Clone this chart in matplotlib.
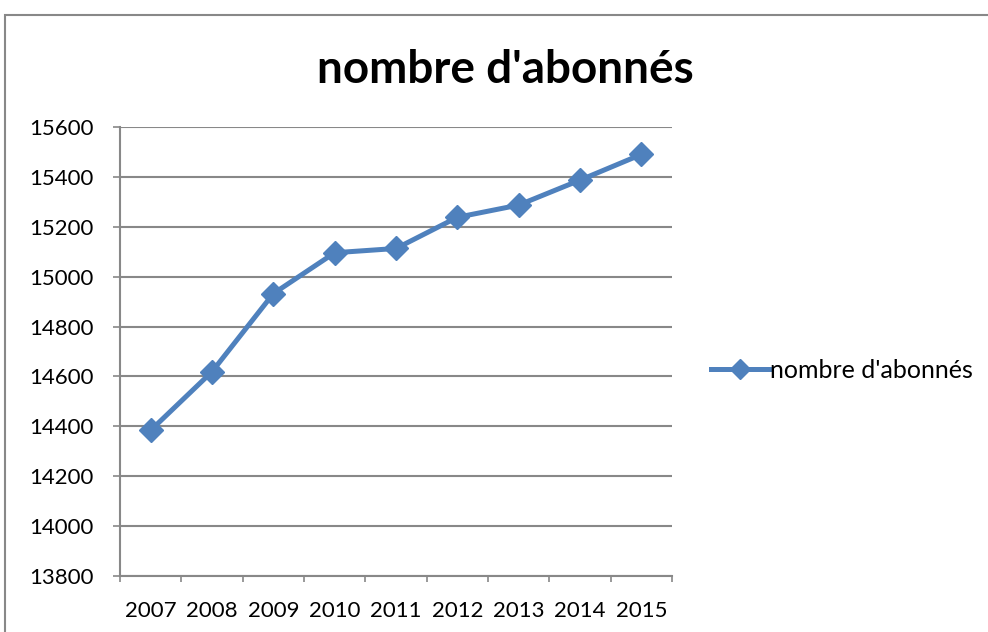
import matplotlib
matplotlib.use("Agg")
import matplotlib.pyplot as plt
from matplotlib.patches import Rectangle
from matplotlib.lines import Line2D

years = ["2007", "2008", "2009", "2010", "2011", "2012", "2013", "2014", "2015"]
subscribers = [14384, 14619, 14932, 15096, 15113, 15238, 15287, 15387, 15490]
yticks = [13800, 14000, 14200, 14400, 14600, 14800, 15000, 15200, 15400, 15600]
series_name = "nombre d'abonnés"
title = "nombre d'abonnés"

W, H = 988, 632
fig = plt.figure(figsize=(W / 100, H / 100), dpi=100)
plt.rcParams['font.family'] = ['Lato', 'DejaVu Sans']

# outer frame
fig.patches.append(Rectangle((5 / W, -0.1), 1.2, 1 - 15 / H + 0.1, transform=fig.transFigure,
                             fill=False, edgecolor="#888888", linewidth=1.5))

ax = fig.add_axes([120 / W, 1 - 576 / H, (672 - 120) / W, (576 - 127) / H])
x = list(range(len(years)))
blue = "#4F81BD"
ax.plot(x, subscribers, color=blue, linewidth=3.6, marker="D", markersize=12,
        markeredgecolor=blue, markerfacecolor=blue, label=series_name, zorder=3)

ax.set_xlim(-0.5, len(years) - 0.5)
ax.set_ylim(yticks[0], yticks[-1])
ax.set_yticks(yticks)
ax.set_yticklabels([str(v) for v in yticks])
ax.set_xticks(x)
ax.set_xticklabels(years)
ax.set_xticks([i - 0.5 for i in range(len(years) + 1)], minor=True)
ax.tick_params(axis="x", which="major", length=0, pad=18, labelsize=16)
ax.tick_params(axis="x", which="minor", length=4.5, width=1.2, color="#888888", direction="out")
ax.tick_params(axis="y", length=5, width=1.2, color="#888888", labelsize=16, pad=14)
ax.yaxis.grid(True, color="#888888", linewidth=1.5)
ax.set_axisbelow(True)
for s in ["top", "right"]:
    ax.spines[s].set_visible(False)
ax.spines["left"].set_color("#888888")
ax.spines["left"].set_linewidth(1.5)
ax.spines["bottom"].set_color("#888888")
ax.spines["bottom"].set_linewidth(1.5)

fig.text(505 / W, 1 - 70 / H, title, ha="center", va="center", fontsize=33, fontweight="bold")

handle = Line2D([], [], color=blue, linewidth=3.6, marker="D", markersize=10)
fig.legend(handles=[handle], labels=[series_name], loc="center left",
           bbox_to_anchor=(711 / W, 1 - 370 / H), frameon=False, fontsize=18,
           handlelength=2.3, handletextpad=0.05, borderaxespad=0, borderpad=0)

fig.savefig("out.png", dpi=100)
